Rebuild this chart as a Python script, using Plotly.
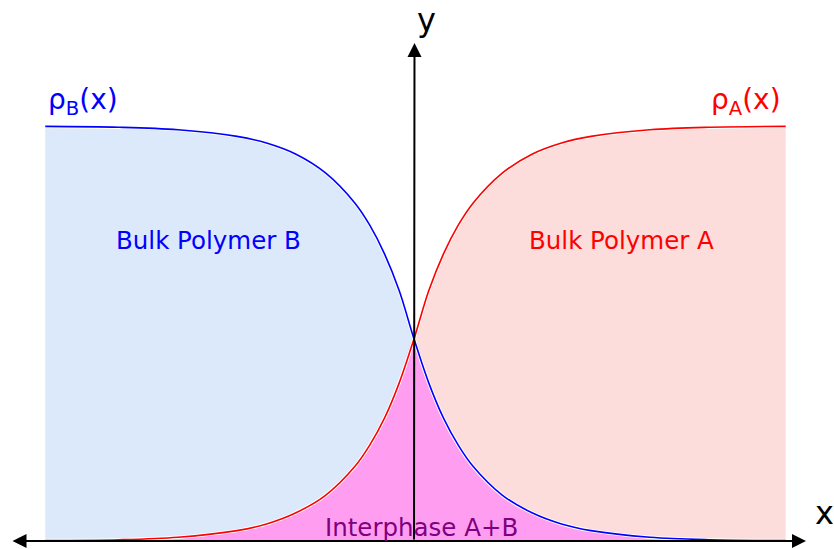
import plotly.graph_objects as go

# Data (x in units of interface width, densities)
x_vals = [-6.25, -5, -4, -3, -2.5, -2, -1.5, -1, -0.75, -0.5, -0.25, 0,
          0.25, 0.5, 0.75, 1, 1.5, 2, 2.5, 3, 4, 5, 6.3]
rho_A = [0.001, 0.003, 0.009, 0.025, 0.041, 0.068, 0.110, 0.180, 0.231, 0.296, 0.381, 0.487,
         0.603, 0.692, 0.761, 0.814, 0.887, 0.932, 0.959, 0.975, 0.991, 0.997, 0.999]
rho_B = [0.999, 0.997, 0.991, 0.975, 0.959, 0.932, 0.887, 0.814, 0.761, 0.692, 0.603, 0.487,
         0.381, 0.296, 0.231, 0.180, 0.110, 0.068, 0.041, 0.025, 0.009, 0.003, 0.001]
rho_min = [min(a, b) for a, b in zip(rho_A, rho_B)]

W, H = 834, 549
X0PX, LPX = 414, 59.0      # pixel of x=0, pixels per unit
Y0PX, HPX = 541, 415.0     # pixel of y=0, pixels per unit density


def px_x(p):
    return (p - X0PX) / LPX


def px_y(p):
    return (Y0PX - p) / HPX


i0 = x_vals.index(0)
fig = go.Figure()
# Bulk B fill (left)
fig.add_trace(go.Scatter(x=x_vals[:i0 + 1], y=rho_B[:i0 + 1], mode="lines",
                         line=dict(width=0, shape="spline"), fill="tozeroy",
                         fillcolor="#dbe9fb", hoverinfo="skip"))
# Bulk A fill (right)
fig.add_trace(go.Scatter(x=x_vals[i0:], y=rho_A[i0:], mode="lines",
                         line=dict(width=0, shape="spline"), fill="tozeroy",
                         fillcolor="#fddcdc", hoverinfo="skip"))
# Interphase fill
fig.add_trace(go.Scatter(x=x_vals, y=rho_min, mode="lines",
                         line=dict(width=0, shape="spline"), fill="tozeroy",
                         fillcolor="#ff9ef0", hoverinfo="skip"))
# thin white halo between fills and curves
for ys in (rho_B, rho_A):
    fig.add_trace(go.Scatter(x=x_vals, y=ys, mode="lines", hoverinfo="skip",
                             line=dict(color="white", width=3.5, shape="spline")))
# Curves
fig.add_trace(go.Scatter(x=x_vals, y=rho_B, mode="lines", hoverinfo="skip",
                         line=dict(color="#0000ff", width=1.6, shape="spline")))
fig.add_trace(go.Scatter(x=x_vals, y=rho_A, mode="lines", hoverinfo="skip",
                         line=dict(color="#ff0000", width=1.6, shape="spline")))

font_family = "DejaVu Sans"
ann = []
# x axis with arrows at both ends
ann.append(dict(x=px_x(806), y=0, ax=px_x(11), ay=0, xref="x", yref="y",
                axref="x", ayref="y", showarrow=True, arrowhead=2, arrowside="end+start",
                arrowsize=1.4, arrowwidth=2, arrowcolor="black", text=""))
# y axis with arrow at top
ann.append(dict(x=px_x(414.5), y=px_y(43), ax=px_x(414), ay=0, xref="x", yref="y",
                axref="x", ayref="y", showarrow=True, arrowhead=2,
                arrowsize=1.4, arrowwidth=2, arrowcolor="black", text=""))


def label(px, py, text, color, size):
    ann.append(dict(x=px_x(px), y=px_y(py), xref="x", yref="y", text=text,
                    showarrow=False, font=dict(family=font_family, size=size, color=color),
                    xanchor="center", yanchor="middle"))


label(426, 20, "y", "black", 32)
label(824, 513, "x", "black", 32)
label(83, 101, "ρ<sub>B</sub>(x)", "#0000ff", 28)
label(746, 101, "ρ<sub>A</sub>(x)", "#ff0000", 28)
label(208, 240, "Bulk Polymer B", "#0000ff", 24.5)
label(621, 240, "Bulk Polymer A", "#ff0000", 24.5)
label(421, 527, "Interphase A+B", "#800080", 24.5)

fig.update_layout(
    width=W, height=H, margin=dict(l=0, r=0, t=0, b=0),
    paper_bgcolor="white", plot_bgcolor="white", showlegend=False,
    annotations=ann, hovermode=False,
    xaxis=dict(range=[px_x(0), px_x(W)], visible=False, fixedrange=True),
    yaxis=dict(range=[px_y(H), px_y(0)], visible=False, fixedrange=True),
)

fig.write_html("out.html", config={"displayModeBar": False, "staticPlot": True},
               post_script="document.body.style.margin='0';")
